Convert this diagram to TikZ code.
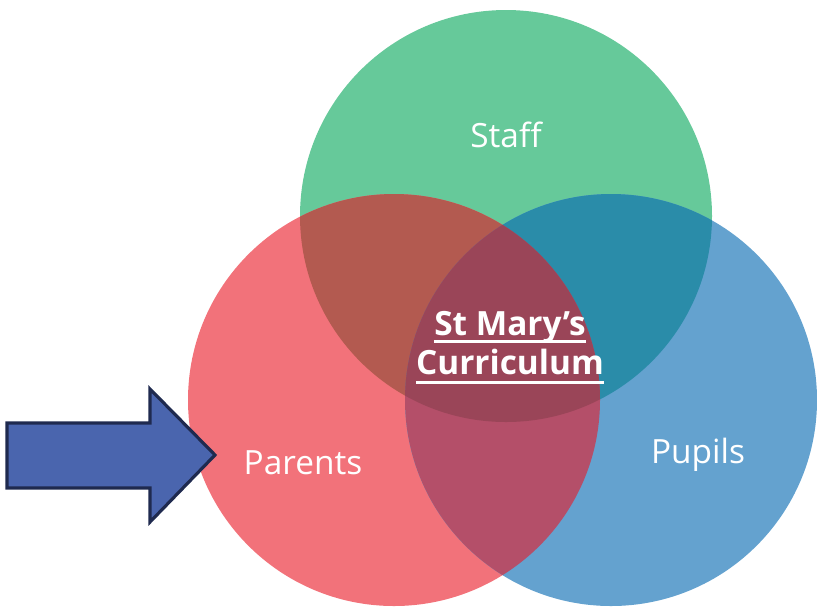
\documentclass[tikz,border=0pt]{standalone}
\usepackage{fontspec}
\setmainfont{Open Sans}
\usetikzlibrary{positioning}

\definecolor{staffgreen}{HTML}{66C99A}
\definecolor{parentred}{HTML}{F2727A}
\definecolor{pupilblue}{HTML}{64A2CF}
\definecolor{staffparent}{HTML}{B35A50}
\definecolor{staffpupil}{HTML}{2A8CA9}
\definecolor{parentpupil}{HTML}{B44F69}
\definecolor{allthree}{HTML}{9A4558}
\definecolor{arrowfill}{HTML}{4A65AE}
\definecolor{arrowline}{HTML}{1F2A4F}

\begin{document}
\begin{tikzpicture}[x=0.02cm, y=-0.02cm, line join=round,
    setlabel/.style={text=white, font=\fontsize{19}{24}\selectfont},
    titleline/.style={text=white, font=\fontsize{19}{24}\selectfont\bfseries, inner sep=0pt, anchor=base},
    underbar/.style={draw=white, line width=1.6pt},
    bigarrow/.style={draw=arrowline, fill=arrowfill, line width=1.8pt, line join=miter}]
      \useasboundingbox (0,0) rectangle (817,606);
      % the three circles
      \fill[staffgreen] (506,216) circle (206);
      \fill[parentred] (394,400) circle (206);
      \fill[pupilblue] (611,400) circle (206);
      % overlaps
      \begin{scope}
        \clip (506,216) circle (206);
        \fill[staffparent] (394,400) circle (206);
      \end{scope}
      \begin{scope}
        \clip (506,216) circle (206);
        \fill[staffpupil] (611,400) circle (206);
      \end{scope}
      \begin{scope}
        \clip (394,400) circle (206);
        \fill[parentpupil] (611,400) circle (206);
      \end{scope}
      \begin{scope}
        \clip (506,216) circle (206);
        \clip (394,400) circle (206);
        \fill[allthree] (611,400) circle (206);
      \end{scope}
      % labels
      \node[setlabel] (staff) at (506,135) {Staff};
      \node[setlabel] (parents) at (303,463) {Parents};
      \node[setlabel] (pupils) at (698,455) {Pupils};
      \node[titleline] (stmarys) at (510,335) {St Mary’s};
      \node[titleline] (curric) at (510,374) {Curriculum};
      \draw[underbar] ([yshift=-3.6pt]stmarys.base west) -- ([yshift=-3.6pt]stmarys.base east);
      \draw[underbar] ([yshift=-4.6pt]curric.base west) -- ([yshift=-4.6pt]curric.base east);
      % arrow pointing at parents
      \draw[bigarrow] (7,423) -- (150,423) -- (150,389) -- (215,455) -- (150,522) -- (150,488) -- (7,488) -- cycle;
    \end{tikzpicture}
\end{document}
